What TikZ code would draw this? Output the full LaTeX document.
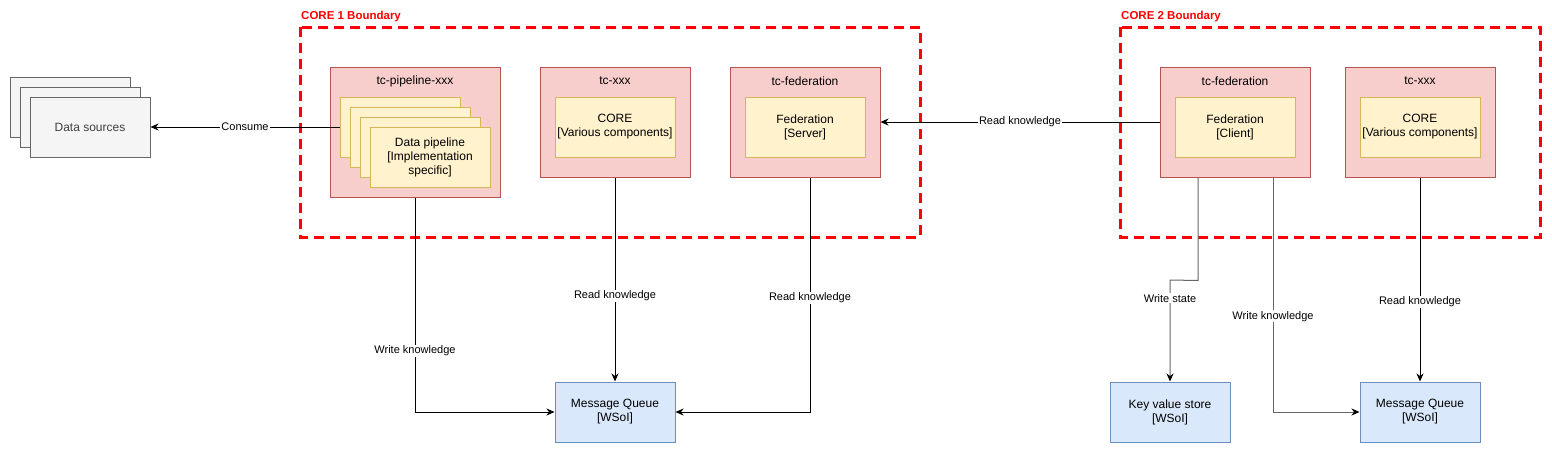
\documentclass[tikz,border=0pt]{standalone}
\usepackage[rgb]{xcolor}
\usepackage{fontspec}
\setmainfont{Liberation Sans}
\usepackage{tikz}
\usetikzlibrary{arrows.meta}

\definecolor{podfill}{HTML}{F8CECC}
\definecolor{poddraw}{HTML}{B85450}
\definecolor{compfill}{HTML}{FFF2CC}
\definecolor{compdraw}{HTML}{D6B656}
\definecolor{storefill}{HTML}{DAE8FC}
\definecolor{storedraw}{HTML}{6C8EBF}
\definecolor{srcfill}{HTML}{F5F5F5}
\definecolor{srcdraw}{HTML}{666666}

\begin{document}
\begin{tikzpicture}[x=1pt, y=-1pt,
  pod/.style = {draw=poddraw, fill=podfill, line width=1pt, minimum width=150pt, minimum height=110pt},
  comp/.style = {draw=compdraw, fill=compfill, line width=1pt, minimum width=120pt, minimum height=60pt,
                 align=center, font=\fontsize{12}{14}\selectfont, inner sep=1pt},
  store/.style = {draw=storedraw, fill=storefill, line width=1pt, minimum width=120pt, minimum height=60pt,
                  align=center, font=\fontsize{12}{14}\selectfont},
  src/.style = {draw=srcdraw, fill=srcfill, line width=1pt, minimum width=120pt, minimum height=60pt,
                font=\fontsize{12}{14}\selectfont\color{black!75}},
  podname/.style = {font=\fontsize{12}{14}\selectfont},
  boundary/.style = {draw=red, line width=3pt, dash pattern=on 10pt off 6pt},
  boundname/.style = {anchor=west, text=red, font=\fontsize{11.5}{13}\selectfont\bfseries, inner sep=0pt},
  flow/.style = {line width=1pt, -{Stealth[length=8pt,width=7pt,inset=2.5pt,color=black]}},
  lbl/.style = {fill=white, inner sep=1pt, font=\fontsize{11}{13}\selectfont}
]

\useasboundingbox (0,0) rectangle (1552,453);

% boundaries
\draw[boundary] (300,27) rectangle (920,237);
\node[boundname] (bound1) at (301,17) {CORE 1 Boundary};
\draw[boundary] (1120,27) rectangle (1540,237);
\node[boundname] (bound2) at (1121,17) {CORE 2 Boundary};

% data sources (stacked)
\node[src] (ds3) at (70,107) {};
\node[src] (ds2) at (80,117) {};
\node[src] (ds1) at (90,127) {Data sources};

% core 1
\node[pod, minimum width=170pt, minimum height=130pt] (pipe) at (415,132) {};
\node[podname] (pipeT) at (415,81) {tc-pipeline-xxx};
\foreach \i in {4,3,2}
  \node[comp] (pl\i) at ({400+(4-\i)*10},{127+(4-\i)*10}) {};
\node[comp] (pl1) at (430,157) {Data pipeline\\{[}Implementation\\specific{]}};

\node[pod] (core1) at (615,122) {};
\node[podname] (core1T) at (615,81) {tc-xxx};
\node[comp] (core1c) at (615,127) {CORE\\{[}Various components{]}};

\node[pod] (fed1) at (805,122) {};
\node[podname] (fed1T) at (805,81) {tc-federation};
\node[comp] (fed1c) at (805,127) {Federation\\{[}Server{]}};

% core 2
\node[pod] (fed2) at (1235,122) {};
\node[podname] (fed2T) at (1235,81) {tc-federation};
\node[comp] (fed2c) at (1235,127) {Federation\\{[}Client{]}};

\node[pod] (core2) at (1420,122) {};
\node[podname] (core2T) at (1420,81) {tc-xxx};
\node[comp] (core2c) at (1420,127) {CORE\\{[}Various components{]}};

% stores
\node[store] (mq1) at (615,412) {Message Queue\\{[}WSoI{]}};
\node[store] (kv) at (1170,412) {Key value store\\{[}WSoI{]}};
\node[store] (mq2) at (1420,412) {Message Queue\\{[}WSoI{]}};

% connectors
\draw[flow] (pl4.west) -- node[lbl] {Consume} (ds1.east);
\draw[flow] (fed2.west |- fed1.east) -- node[lbl] {Read knowledge} (fed1.east);
\draw[flow] (pipe.south) |- node[lbl, pos=0.358] {Write knowledge} (mq1.west);
\draw[flow] (core1.south) -- node[lbl, pos=0.58] {Read knowledge} (mq1.north);
\draw[flow] ([xshift=5pt]fed1.south) |- node[lbl, pos=0.257] {Read knowledge} (mq1.east);
\draw[flow, draw=black!60] ([xshift=-37pt]fed2.south) -- ++(0,103) -- (kv.north |- 0,280)
  -- node[lbl, pos=0.18] {Write state} (kv.north);
\draw[flow, draw=black!60] ([xshift=38pt]fed2.south) |- node[lbl, pos=0.296] {Write knowledge} (mq2.west);
\draw[flow] (core2.south) -- node[lbl, pos=0.61] {Read knowledge} (mq2.north);

\end{tikzpicture}
\end{document}
